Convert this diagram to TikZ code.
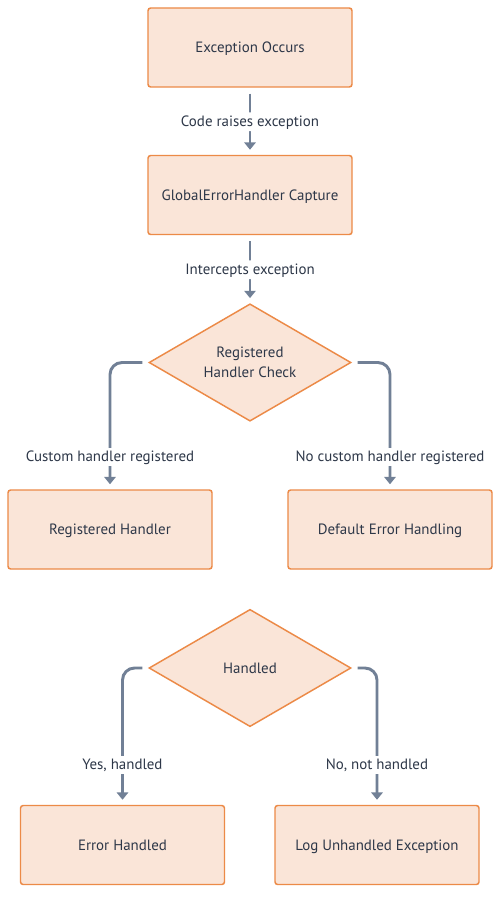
\documentclass[tikz,border=0pt]{standalone}
\usepackage{fontspec}
\setmainfont{PT Sans}
\usetikzlibrary{shapes.geometric,arrows.meta}
\definecolor{boxfill}{HTML}{FAE5D8}
\definecolor{boxline}{HTML}{EC8A47}
\definecolor{conncol}{HTML}{718096}
\definecolor{txtcol}{HTML}{2D3748}
\tikzset{
  stepbox/.style={draw=boxline, fill=boxfill, line width=1.1pt, rounded corners=2pt,
    minimum width=153pt, minimum height=59.25pt, inner sep=0pt, text depth=0pt,
    text=txtcol, font=\fontsize{11.2}{13}\selectfont},
  decbox/.style={diamond, draw=boxline, fill=boxfill, line width=1.1pt,
    minimum width=151.5pt, minimum height=88pt, inner sep=-12pt, text=txtcol, align=center,
    font=\fontsize{11.2}{15}\selectfont},
  conn/.style={draw=conncol, line width=2.2pt, rounded corners=9pt,
    -{Triangle[length=5.5pt,width=8.5pt]}},
  lbl/.style={fill=white, text=txtcol, inner sep=2.5pt, text height=8pt, text depth=1pt,
    font=\fontsize{11.2}{13}\selectfont}
}
\begin{document}
\begin{tikzpicture}[x=0.75pt,y=-0.75pt]
\useasboundingbox[fill=white] (0,0) rectangle (500,906);
\node[stepbox] (e1) at (250,47.5) {Exception Occurs};
\node[stepbox] (e2) at (250,195) {GlobalErrorHandler Capture};
\node[decbox] (d1) at (250,362.5) {Registered\\Handler Check};
\node[stepbox] (r1) at (110,529.5) {Registered Handler};
\node[stepbox] (r2) at (390,529.5) {Default Error Handling};
\node[decbox] (d2) at (250,668) {Handled};
\node[stepbox] (h1) at (122.5,845) {Error Handled};
\node[stepbox] (h2) at (377,845) {Log Unhandled Exception};

\draw[conn] ([yshift=-4.5pt]e1.south) -- ([yshift=3.75pt]e2.north)
  node[lbl, midway] (l1) {Code raises exception};
\draw[conn] ([yshift=-4.5pt]e2.south) -- ([yshift=3.75pt]d1.north)
  node[lbl, midway] (l2) {Intercepts exception};

\draw[conn] ([xshift=-4.5pt]d1.west) -| ([yshift=3.75pt]r1.north);
\node[lbl] (l3) at (110,457) {Custom handler registered};
\draw[conn] ([xshift=4.5pt]d1.east) -| ([yshift=3.75pt]r2.north);
\node[lbl] (l4) at (390,457) {No custom handler registered};

\draw[conn] ([xshift=-4.5pt]d2.west) -| ([yshift=3.75pt]h1.north);
\node[lbl] (l5) at (122.5,765) {Yes, handled};
\draw[conn] ([xshift=4.5pt]d2.east) -| ([yshift=3.75pt]h2.north);
\node[lbl] (l6) at (377,765) {No, not handled};
\end{tikzpicture}
\end{document}
